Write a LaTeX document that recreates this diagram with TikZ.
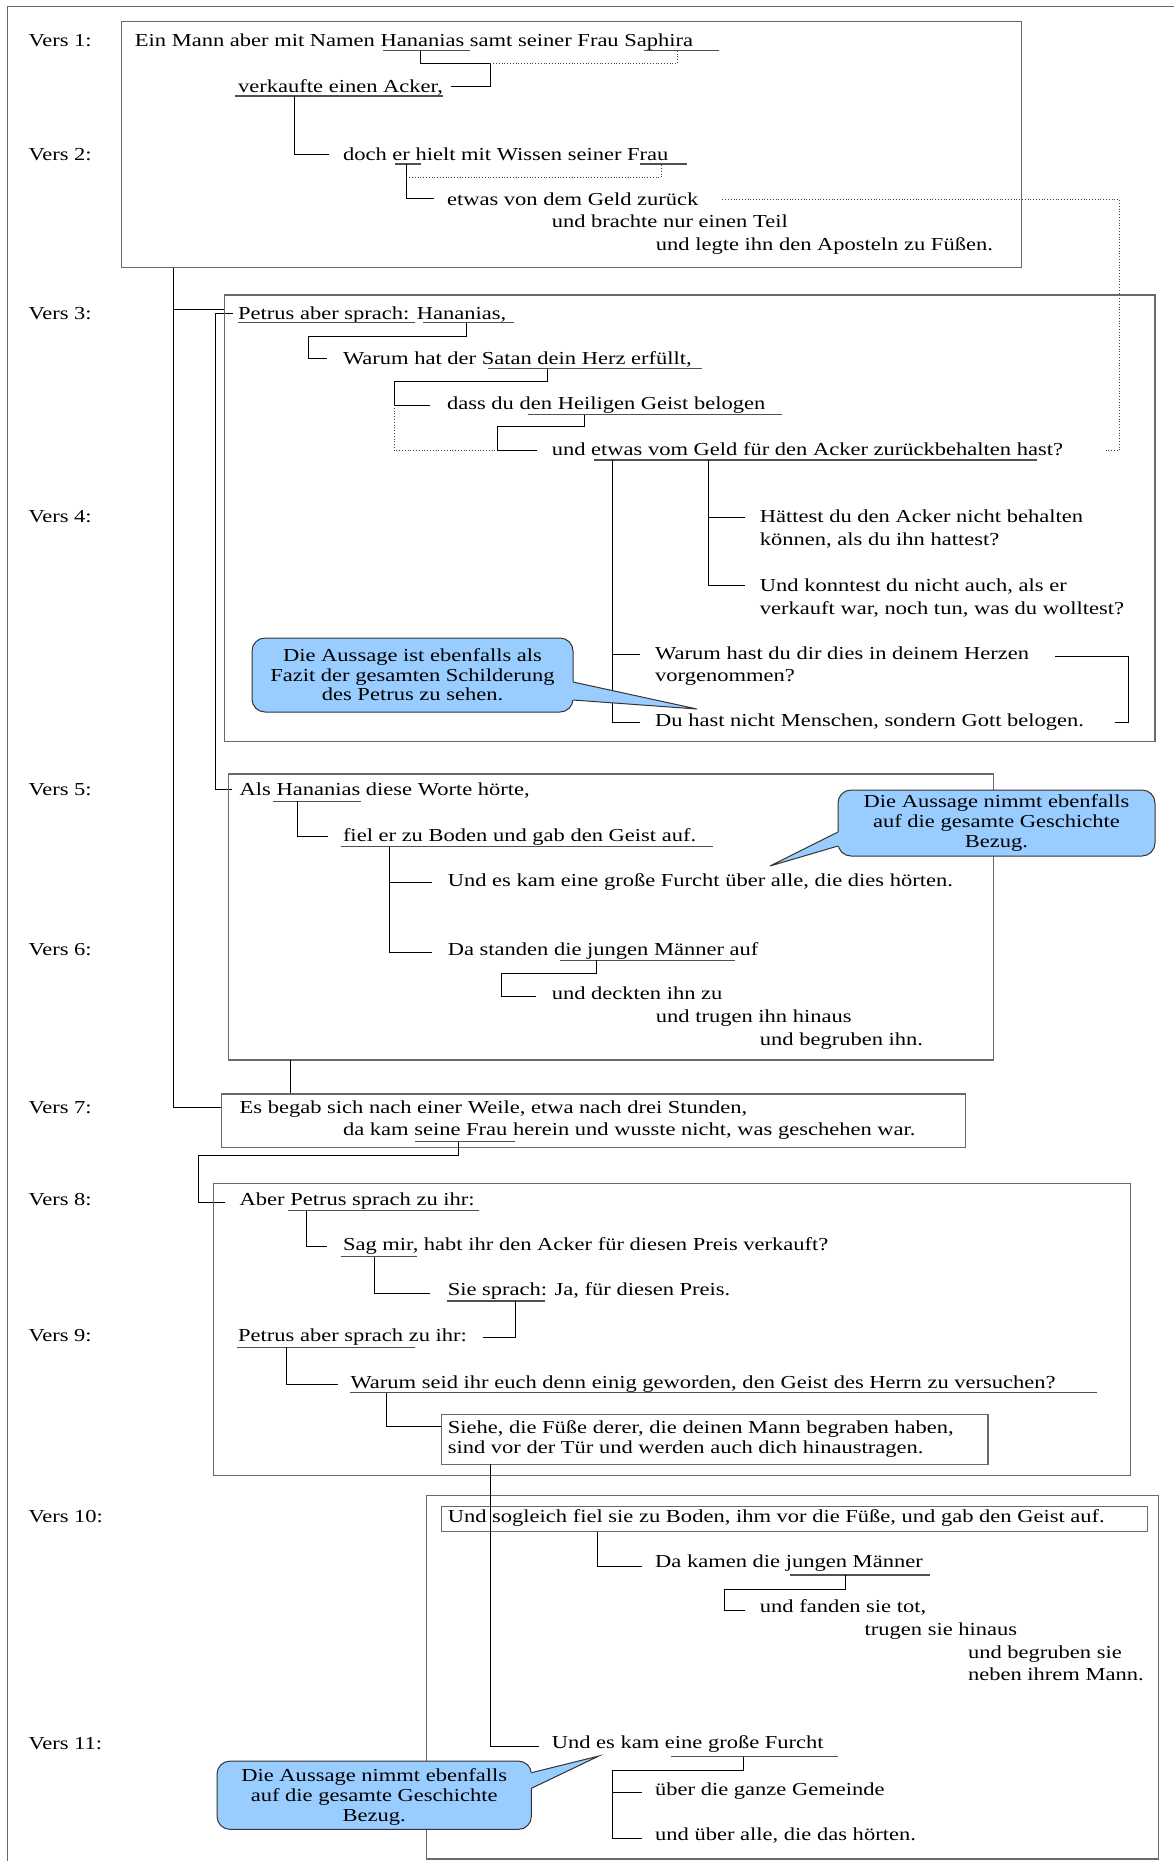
\documentclass[tikz,border=0pt]{standalone}
\usepackage{fontspec}
\setmainfont{Liberation Serif}[FakeStretch=1.23]
\newcommand{\mf}{\fontsize{18.3pt}{20pt}\selectfont}
\definecolor{calloutblue}{RGB}{153,204,255}
\definecolor{boxgray}{RGB}{105,105,105}
\definecolor{ulgray}{RGB}{80,80,80}
\tikzset{
  txt/.style={anchor=base west, inner sep=0pt, font=\mf},
  ctxt/.style={anchor=base, inner sep=0pt, font=\mf},
  frame/.style={draw=boxgray, line width=1.4pt},
  conn/.style={draw=black, line width=1pt},
  uline/.style={draw=ulgray, line width=1.2pt},
  dots/.style={draw=black!75, line width=0.8pt, dotted},
  callbox/.style={fill=calloutblue, draw=black!80, line width=1pt, rounded corners=13pt, inner sep=0pt},
  wedge/.style={fill=calloutblue},
  wedgeline/.style={draw=black!80, line width=1pt, line join=miter}
}
\begin{document}
\begin{tikzpicture}[x=1pt,y=-1pt]
\useasboundingbox (0,0) rectangle (1174,1861);
\fill[white] (0,0) rectangle (1174,1861);
% outer frame (cut by the page)
\draw[frame] (7.5,1861) -- (7.5,6.7) -- (1174,6.7);

% verse labels
\node[txt] (v1) at (28.4,46.7) {Vers 1:};
\node[txt] (v2) at (28.4,160) {Vers 2:};
\node[txt] (v3) at (28.4,319) {Vers 3:};
\node[txt] (v4) at (28.4,522.7) {Vers 4:};
\node[txt] (v5) at (28.4,795.7) {Vers 5:};
\node[txt] (v6) at (28.4,955) {Vers 6:};
\node[txt] (v7) at (28.4,1113.3) {Vers 7:};
\node[txt] (v8) at (28.4,1205) {Vers 8:};
\node[txt] (v9) at (28.4,1341.7) {Vers 9:};
\node[txt] (v10) at (28.4,1522) {Vers 10:};
\node[txt] (v11) at (28.4,1749.3) {Vers 11:};

% ---------------- box 1 (Vers 1-2)
\draw[frame] (121.3,21.7) rectangle (1021.7,267.7);
\node[txt] (t1a) at (134.7,46.7) {Ein Mann aber mit Namen Hananias samt seiner Frau Saphira};
\draw[uline] (383,50.7) -- (470,50.7);
\draw[uline] (643.7,50.7) -- (718.6,50.7);
\draw[conn] (420.7,50.7) -- (420.7,63.3) -- (490.3,63.3) -- (490.3,86.7) -- (451.3,86.7);
\draw[dots] (490.3,63.3) -- (677.4,63.3) -- (677.4,50.7);
\node[txt] (t1b) at (238,92) {verkaufte einen Acker,};
\draw[uline] (235,96) -- (443,96);
\draw[conn] (294,96) -- (294,154.3) -- (329.3,154.3);
\node[txt] (t2a) at (342.8,160) {doch er hielt mit Wissen seiner Frau};
\draw[uline] (394.5,164) -- (420.7,164);
\draw[uline] (640,164) -- (687,164);
\draw[conn] (406.4,164) -- (406.4,198.3) -- (434,198.3);
\draw[dots] (406.4,177.3) -- (661,177.3) -- (661,164);
\node[txt] (t2b) at (446.9,205) {etwas von dem Geld zurück};
\draw[dots] (722.3,199.3) -- (1119,199.3) -- (1119,450.7) -- (1104,450.7);
\node[txt] (t2c) at (551.6,227.7) {und brachte nur einen Teil};
\node[txt] (t2d) at (655.7,250.7) {und legte ihn den Aposteln zu Füßen.};

% main spines
\draw[conn] (173.7,267.7) -- (173.7,1107.3) -- (221.6,1107.3);
\draw[conn] (173.7,309.3) -- (224.6,309.3);
\draw[conn] (232.7,313.3) -- (215,313.3) -- (215,789.3) -- (231.7,789.3);

% ---------------- box 2 (Vers 3-4)
\draw[frame] (224.6,295) rectangle (1155,741.7);
\node[txt] (t3a) at (238,319) {Petrus aber sprach: Hananias,};
\draw[uline] (238,322.7) -- (415.4,322.7);
\draw[uline] (423,322.7) -- (514,322.7);
\draw[conn] (466.3,322.7) -- (466.3,336) -- (308.4,336) -- (308.4,358.3) -- (327,358.3);
\node[txt] (t3b) at (342.8,364) {Warum hat der Satan dein Herz erfüllt,};
\draw[uline] (488,368.7) -- (702,368.7);
\draw[conn] (547,368.7) -- (547,381.7) -- (394.5,381.7) -- (394.5,405) -- (430.4,405);
\draw[dots] (394.5,405) -- (394.5,450.7) -- (497.8,450.7);
\node[txt] (t3c) at (446.9,409.3) {dass du den Heiligen Geist belogen};
\draw[uline] (527.7,414.7) -- (782.2,414.7);
\draw[conn] (584.6,414.7) -- (584.6,426.7) -- (497.8,426.7) -- (497.8,450.7) -- (536.7,450.7);
\node[txt] (t3d) at (551.6,455) {und etwas vom Geld für den Acker zurückbehalten hast?};
\draw[uline] (593.6,460) -- (1036.7,460);
\draw[conn] (612.3,460) -- (612.3,722.7) -- (640,722.7);
\draw[conn] (612.3,654.3) -- (640,654.3);
\draw[conn] (708.8,460) -- (708.8,585) -- (744.8,585);
\draw[conn] (708.8,517.7) -- (744.8,517.7);
\node[txt] (t4a) at (759.7,522.7) {Hättest du den Acker nicht behalten};
\node[txt] (t4b) at (759.7,545) {können, als du ihn hattest?};
\node[txt] (t4c) at (759.7,591) {Und konntest du nicht auch, als er};
\node[txt] (t4d) at (759.7,614.3) {verkauft war, noch tun, was du wolltest?};
\node[txt] (t4e) at (655,659.3) {Warum hast du dir dies in deinem Herzen};
\node[txt] (t4f) at (655,681.7) {vorgenommen?};
\draw[conn] (1055.4,656) -- (1128.7,656) -- (1128.7,722.7) -- (1115.3,722.7);
\node[txt] (t4g) at (655,726.7) {Du hast nicht Menschen, sondern Gott belogen.};

% callout 1
\node[callbox, minimum width=321pt, minimum height=74pt] (c1) at (412.5,675) {};
\fill[wedge] (569,682) -- (573,682) -- (697,709) -- (573,700) -- (569,700) -- cycle;
\draw[wedgeline] (573,682) -- (697,709) -- (573,700);
\node[ctxt] (c1a) at (412.5,661.7) {Die Aussage ist ebenfalls als};
\node[ctxt] (c1b) at (412.5,681.7) {Fazit der gesamten Schilderung};
\node[ctxt] (c1c) at (412.5,700) {des Petrus zu sehen.};

% ---------------- box 5 (Vers 5-6)
\draw[frame] (228.3,774) rectangle (993.3,1060);
\node[txt] (t5a) at (239.5,795.7) {Als Hananias diese Worte hörte,};
\draw[uline] (273.2,801.3) -- (360.8,801.3);
\draw[conn] (297,801.3) -- (297,836.7) -- (327.8,836.7);
\node[txt] (t5b) at (342.8,841) {fiel er zu Boden und gab den Geist auf.};
\draw[uline] (340.6,846.7) -- (712.6,846.7);
\draw[conn] (389.2,846.7) -- (389.2,952) -- (431.9,952);
\draw[conn] (389.2,882.3) -- (431.9,882.3);
\node[txt] (t5c) at (447.6,886.7) {Und es kam eine große Furcht über alle, die dies hörten.};
\node[txt] (t6a) at (447.6,955) {Da standen die jungen Männer auf};
\draw[uline] (560,960.3) -- (735,960.3);
\draw[conn] (596.6,960.3) -- (596.6,973.3) -- (501.5,973.3) -- (501.5,996) -- (536,996);
\node[txt] (t6b) at (551.6,999.3) {und deckten ihn zu};
\node[txt] (t6c) at (655.7,1022) {und trugen ihn hinaus};
\node[txt] (t6d) at (759.7,1045) {und begruben ihn.};

% callout 2
\node[callbox, minimum width=317pt, minimum height=66pt] (c2) at (996.5,823) {};
\fill[wedge] (842,832) -- (838,832) -- (770,866) -- (838,846) -- (842,846) -- cycle;
\draw[wedgeline] (838,832) -- (770,866) -- (838,846);
\node[ctxt] (c2a) at (996.5,807.5) {Die Aussage nimmt ebenfalls};
\node[ctxt] (c2b) at (996.5,827.5) {auf die gesamte Geschichte};
\node[ctxt] (c2c) at (996.5,847.5) {Bezug.};

\draw[conn] (290.4,1060) -- (290.4,1094);

% ---------------- box 7
\draw[frame] (221.6,1094) rectangle (965.6,1147.7);
\node[txt] (t7a) at (239.5,1113.3) {Es begab sich nach einer Weile, etwa nach drei Stunden,};
\node[txt] (t7b) at (342.8,1135) {da kam seine Frau herein und wusste nicht, was geschehen war.};
\draw[uline] (415.4,1141.7) -- (515,1141.7);
\draw[conn] (458.8,1141.7) -- (458.8,1155) -- (198.4,1155) -- (198.4,1202.7) -- (224.6,1202.7);

% ---------------- box 8 (Vers 8-9)
\draw[frame] (213.3,1183.3) rectangle (1130.2,1475.7);
\node[txt] (t8a) at (239.5,1205) {Aber Petrus sprach zu ihr:};
\draw[uline] (288.2,1210.7) -- (479,1210.7);
\draw[conn] (306.9,1210.7) -- (306.9,1246.7) -- (327,1246.7);
\node[txt] (t8b) at (342.8,1250) {Sag mir, habt ihr den Acker für diesen Preis verkauft?};
\draw[uline] (340.6,1256.7) -- (417,1256.7);
\draw[conn] (374.3,1256.7) -- (374.3,1293.3) -- (430.4,1293.3);
\node[txt] (t8c) at (447.6,1295) {Sie sprach: Ja, für diesen Preis.};
\draw[uline] (446.9,1301) -- (545,1301);
\draw[conn] (515,1301) -- (515,1337.7) -- (482.8,1337.7);
\node[txt] (t9a) at (238,1341.7) {Petrus aber sprach zu ihr:};
\draw[uline] (236.5,1347.3) -- (415.4,1347.3);
\draw[conn] (286.7,1347.3) -- (286.7,1384) -- (338.3,1384);
\node[txt] (t9b) at (350.3,1388.3) {Warum seid ihr euch denn einig geworden, den Geist des Herrn zu versuchen?};
\draw[uline] (349.6,1392.7) -- (1096.6,1392.7);
\draw[conn] (386.2,1392.7) -- (386.2,1426.7) -- (441.6,1426.7);
\draw[frame] (441.6,1414.3) rectangle (988,1464.3);
\node[txt] (t9c) at (447.6,1433.3) {Siehe, die Füße derer, die deinen Mann begraben haben,};
\node[txt] (t9d) at (447.6,1453.3) {sind vor der Tür und werden auch dich hinaustragen.};

% ---------------- box 10 (Vers 10-11)
\draw[frame] (426.6,1495.7) rectangle (1158.7,1859);
\draw[frame] (441.6,1506.7) rectangle (1147.5,1531.7);
\draw[conn] (490.3,1464.3) -- (490.3,1746) -- (539,1746);
\node[txt] (t10a) at (447.6,1522.3) {Und sogleich fiel sie zu Boden, ihm vor die Füße, und gab den Geist auf.};
\draw[conn] (597.3,1531.7) -- (597.3,1566) -- (641.5,1566);
\node[txt] (t10b) at (655,1567.7) {Da kamen die jungen Männer};
\draw[uline] (789.7,1575) -- (930.4,1575);
\draw[conn] (845.8,1575) -- (845.8,1589) -- (724.6,1589) -- (724.6,1610.7) -- (744.8,1610.7);
\node[txt] (t10c) at (759.7,1612.7) {und fanden sie tot,};
\node[txt] (t10d) at (864.5,1635.7) {trugen sie hinaus};
\node[txt] (t10e) at (967.8,1658.3) {und begruben sie};
\node[txt] (t10f) at (967.8,1680) {neben ihrem Mann.};
\node[txt] (t11a) at (551.6,1748.3) {Und es kam eine große Furcht};
\draw[uline] (671.4,1756.7) -- (838.3,1756.7);
\draw[conn] (743.3,1756.7) -- (743.3,1770) -- (612.3,1770) -- (612.3,1838.3) -- (641.5,1838.3);
\draw[conn] (612.3,1792.3) -- (641.5,1792.3);
\node[txt] (t11b) at (655,1795) {über die ganze Gemeinde};
\node[txt] (t11c) at (655,1840) {und über alle, die das hörten.};

% callout 3
\node[callbox, minimum width=314.4pt, minimum height=68.3pt] (c3) at (374.2,1795.2) {};
\fill[wedge] (527,1772.7) -- (531.4,1772.7) -- (598.8,1756) -- (531.4,1788.3) -- (527,1788.3) -- cycle;
\draw[wedgeline] (531.4,1772.7) -- (598.8,1756) -- (531.4,1788.3);
\node[ctxt] (c3a) at (374.2,1781) {Die Aussage nimmt ebenfalls};
\node[ctxt] (c3b) at (374.2,1801) {auf die gesamte Geschichte};
\node[ctxt] (c3c) at (374.2,1821.7) {Bezug.};
\end{tikzpicture}
\end{document}
